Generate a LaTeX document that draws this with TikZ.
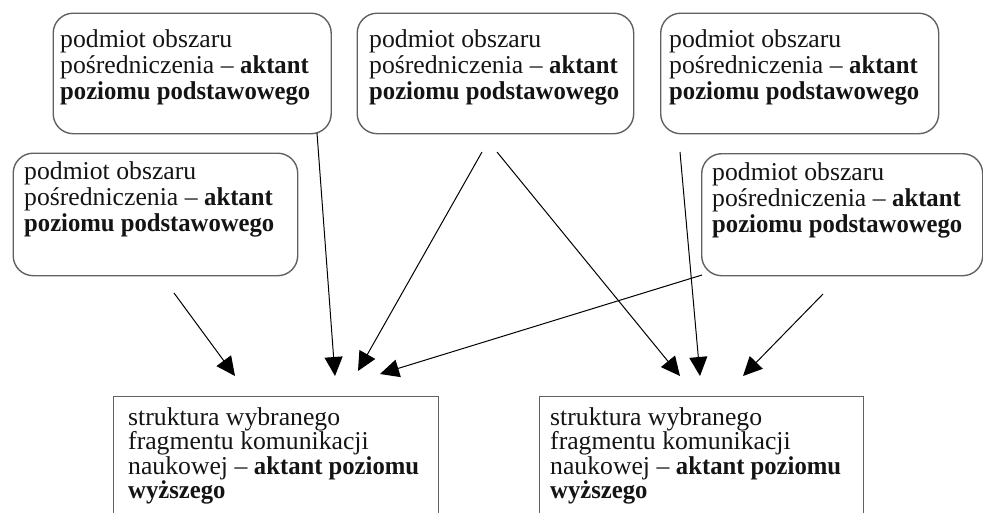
\documentclass[tikz,border=0pt]{standalone}
\usepackage{fontspec}
\setmainfont{Liberation Serif}[BoldFeatures={FakeStretch=0.96}]
\usetikzlibrary{arrows.meta}
\definecolor{boxgray}{gray}{0.38}
\definecolor{inkcol}{gray}{0.08}
\begin{document}
\begin{tikzpicture}[x=1pt,y=-1pt,
  actorbox/.style={draw=boxgray, line width=1.4pt, rounded corners=20pt,
    inner sep=0pt, anchor=north west},
  higherbox/.style={draw=boxgray, line width=1.4pt, inner sep=0pt, anchor=north west},
  % multi-line texts are anchored at the baseline of their last line
  boxtext/.style={anchor=base west, inner sep=0pt, align=left, text=inkcol},
  actorfont/.style={font=\fontsize{25.7}{26}\selectfont},
  higherfont/.style={font=\fontsize{25.7}{24.5}\selectfont},
  link/.style={draw=black, line width=1pt, -{Triangle[length=19pt,width=18pt]}}]

\useasboundingbox (0,0) rectangle (983,512);
\clip (0,0) rectangle (983,512);

% subjects of the mediation area (rounded boxes)
\node[actorbox, minimum width=278pt, minimum height=120.5pt] (tl) at (52.5,12.5) {};
\node[actorbox, minimum width=276.5pt, minimum height=120.5pt] (tm) at (356.5,12.5) {};
\node[actorbox, minimum width=278pt, minimum height=120.5pt] (tr) at (660,12.5) {};
\node[actorbox, minimum width=284.5pt, minimum height=122.5pt] (ml) at (12.5,152.5) {};
\node[actorbox, minimum width=281pt, minimum height=122pt] (mr) at (701,153) {};

% higher-level structures (plain boxes, running past the lower edge)
\node[higherbox, minimum width=325pt, minimum height=140pt] (bl) at (113,396) {};
\node[higherbox, minimum width=324pt, minimum height=140pt] (br) at (539,396) {};

% box texts
\newcommand{\actortext}{podmiot obszaru\\ pośredniczenia – \textbf{aktant}\\ \textbf{poziomu podstawowego}}
\newcommand{\highertext}{struktura wybranego\\ fragmentu komunikacji\\ naukowej – \textbf{aktant poziomu}\\ \textbf{wyższego}}
\node[boxtext, actorfont] (tlt) at (60,99) {\actortext};
\node[boxtext, actorfont] (tmt) at (369,99) {\actortext};
\node[boxtext, actorfont] (trt) at (669,99) {\actortext};
\node[boxtext, actorfont] (mlt) at (24,231) {\actortext};
\node[boxtext, actorfont] (mrt) at (712,232) {\actortext};
\node[boxtext, higherfont] (blt) at (128,498.5) {\highertext};
\node[boxtext, higherfont] (brt) at (550,498.5) {\highertext};

% connector ends
\coordinate (tl-out)  at (317,133);
\coordinate (tm-out1) at (482,152);
\coordinate (tm-out2) at (497,152);
\coordinate (tr-out)  at (680,152);
\coordinate (ml-out)  at (174,293);
\coordinate (mr-out1) at (702,275);
\coordinate (mr-out2) at (823,294);

\coordinate (bl-in1) at (235,376);
\coordinate (bl-in2) at (335,376);
\coordinate (bl-in3) at (358,371);
\coordinate (bl-in4) at (380,374);
\coordinate (br-in1) at (680,376);
\coordinate (br-in2) at (700,376);
\coordinate (br-in3) at (743,376);

% connectors
\draw[link] (ml-out)  -- (bl-in1);
\draw[link] (tl-out)  -- (bl-in2);
\draw[link] (tm-out1) -- (bl-in3);
\draw[link] (mr-out1) -- (bl-in4);
\draw[link] (tm-out2) -- (br-in1);
\draw[link] (tr-out)  -- (br-in2);
\draw[link] (mr-out2) -- (br-in3);
\end{tikzpicture}
\end{document}
